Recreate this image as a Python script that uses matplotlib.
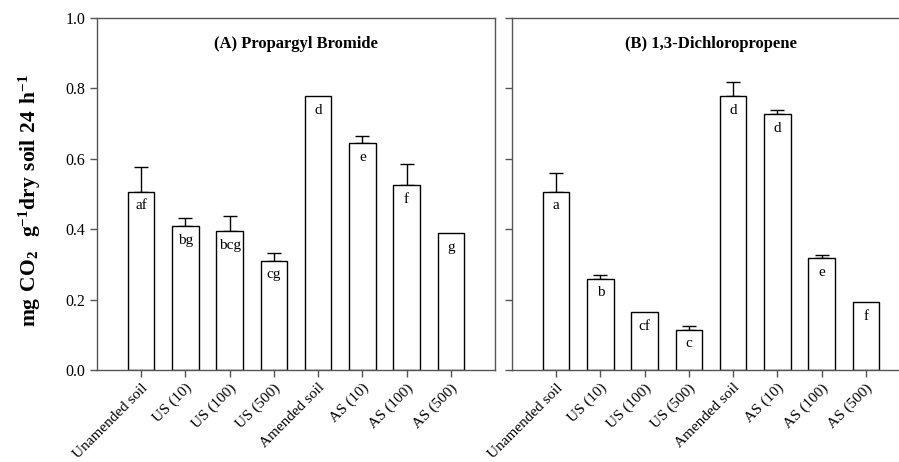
import matplotlib
matplotlib.use("Agg")
import matplotlib.pyplot as plt
import numpy as np

categories = ["Unamended soil", "US (10)", "US (100)", "US (500)",
              "Amended soil", "AS (10)", "AS (100)", "AS (500)"]

pb_values = [0.507, 0.409, 0.394, 0.311, 0.777, 0.644, 0.525, 0.389]
pb_errors = [0.069, 0.023, 0.044, 0.022, 0.0, 0.020, 0.061, 0.0]
pb_letters = ["af", "bg", "bcg", "cg", "d", "e", "f", "g"]

dcp_values = [0.507, 0.259, 0.165, 0.114, 0.777, 0.726, 0.317, 0.192]
dcp_errors = [0.052, 0.010, 0.0, 0.010, 0.042, 0.012, 0.011, 0.0]
dcp_letters = ["a", "b", "cf", "c", "d", "d", "e", "f"]

titles = ["(A) Propargyl Bromide", "(B) 1,3-Dichloropropene"]
yticks = [0.0, 0.2, 0.4, 0.6, 0.8, 1.0]

plt.rcParams['font.family'] = ['Liberation Serif', 'DejaVu Serif']
plt.rcParams['mathtext.fontset'] = 'custom'
plt.rcParams['mathtext.rm'] = 'Liberation Serif'
plt.rcParams['mathtext.bf'] = 'Liberation Serif:bold'

fig = plt.figure(figsize=(8.99, 4.62), dpi=100)
ax1 = fig.add_axes([97/899, 1-370/462, 398/899, 352/462])
ax2 = fig.add_axes([512/899, 1-370/462, 398/899, 352/462])

spine_col = "#555555"
panels = [(ax1, pb_values, pb_errors, pb_letters, titles[0]),
          (ax2, dcp_values, dcp_errors, dcp_letters, titles[1])]
x = np.arange(len(categories))
for i, (ax, vals, errs, letters, title) in enumerate(panels):
    ax.bar(x, vals, width=0.6, color="white", edgecolor="black", linewidth=1.0, zorder=2)
    for xi, v, e in zip(x, vals, errs):
        if e > 0:
            ax.errorbar(xi, v, yerr=[[0], [e]], fmt="none", ecolor="black",
                        elinewidth=1.0, capsize=5, capthick=1.0, zorder=1)
    for xi, v, lab in zip(x, vals, letters):
        ax.text(xi, v - 0.04, lab, ha="center", va="center", fontsize=11)
    ax.set_xlim(-1, 8)
    ax.set_ylim(0, 1.0)
    ax.set_yticks(yticks)
    ax.set_xticks(x)
    ax.set_xticklabels(categories, rotation=45, ha="right", rotation_mode="anchor",
                       fontsize=11)
    ax.tick_params(direction="out", length=5, width=1, color=spine_col)
    ax.tick_params(axis="y", labelsize=11.5)
    ax.tick_params(axis="x", pad=3, labelsize=11)
    for s in ax.spines.values():
        s.set_color(spine_col)
        s.set_linewidth(1.0)
    ax.text(0.5, 0.925, title, transform=ax.transAxes, ha="center", va="center",
            fontsize=12, fontweight="bold")
    if i == 0:
        ax.set_yticklabels([f"{t:.1f}" for t in yticks])
        ax.set_ylabel(r"$\mathbf{mg\ CO_2\ \ g^{-1}dry\ soil\ 24\ h^{-1}}$",
                      fontsize=15.5)
        ax.yaxis.set_label_coords(-0.135, 0.48)
    else:
        ax.set_yticklabels([])

fig.savefig("out.png", dpi=100)
